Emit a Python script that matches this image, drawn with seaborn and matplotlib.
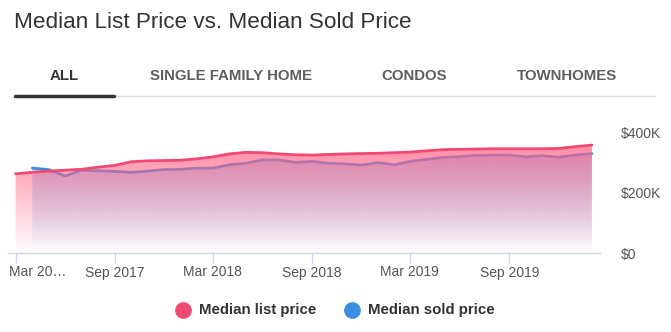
import numpy as np
import pandas as pd
import matplotlib
matplotlib.use("Agg")
import matplotlib.pyplot as plt
import matplotlib.dates as mdates
import matplotlib.transforms as mtransforms
import seaborn as sns

# Monthly medians, Mar 2017 - Feb 2020 (thousands of dollars)
months = pd.date_range("2017-03-01", periods=36, freq="MS")
list_price = [262, 267, 271, 274, 277, 284, 290, 302, 305, 306, 307, 312,
              318, 328, 333, 332, 328, 325, 324, 326, 328, 329, 330, 332,
              334, 338, 342, 343, 344, 345, 345, 345, 345, 346, 352, 357]
sold_price = [np.nan, 281, 276, 255, 274, 272, 270, 267, 271, 276, 277, 281,
              281, 292, 297, 308, 308, 300, 303, 297, 295, 291, 299, 292,
              303, 310, 316, 319, 323, 324, 324, 318, 322, 317, 324, 329]
tick_months = ["2017-03-01", "2017-09-01", "2018-03-01", "2018-09-01",
               "2019-03-01", "2019-09-01"]
tick_labels = ["Mar 20\u2026", "Sep 2017", "Mar 2018", "Sep 2018",
               "Mar 2019", "Sep 2019"]
y_ticks = [0, 200, 400]
y_labels = ["$0", "$200K", "$400K"]
tabs = ["ALL", "SINGLE FAMILY HOME", "CONDOS", "TOWNHOMES"]
series_names = ["Median list price", "Median sold price"]

LIST_COLOR = "#f04a72"
SOLD_COLOR = "#3b8ddd"

sns.set_theme(style="white")
plt.rcParams["font.family"] = ["Liberation Sans", "DejaVu Sans"]

W, H = 671, 332
fig = plt.figure(figsize=(W / 100, H / 100), dpi=100)


def fx(px):
    return px / W


def fy(py):
    return 1 - py / H


ax = fig.add_axes([fx(8), fy(253), fx(600) - fx(8), fy(117) - fy(253)])

df = pd.DataFrame({"month": months, "list": list_price, "sold": sold_price})
xnum = mdates.date2num(df["month"])
x0 = mdates.date2num(pd.Timestamp("2017-03-01")) - 14
x1 = mdates.date2num(pd.Timestamp("2020-02-01")) + 15
ymax = 450


def gradient_area(values, color, top_alpha, z):
    vals = np.asarray(values, dtype=float)
    ok = ~np.isnan(vals)
    poly = ax.fill_between(xnum[ok], 0, vals[ok], color="none", lw=0)
    rgb = matplotlib.colors.to_rgb(color)
    top = np.nanmax(vals)
    grad = np.zeros((256, 1, 4))
    grad[..., :3] = rgb
    grad[:, 0, 3] = np.linspace(top_alpha, 0.0, 256)
    im = ax.imshow(grad, aspect="auto", extent=[x0, x1, 0, top],
                   origin="upper", zorder=z, interpolation="bilinear")
    path = poly.get_paths()[0]
    im.set_clip_path(path, transform=ax.transData)


gradient_area(sold_price, SOLD_COLOR, 0.45, 1)
sns.lineplot(data=df, x="month", y="sold", ax=ax, color=SOLD_COLOR, lw=2,
             zorder=2)
gradient_area(list_price, "#ff6489", 0.75, 3)
sns.lineplot(data=df, x="month", y="list", ax=ax, color=LIST_COLOR, lw=2,
             zorder=4)

ax.set_xlim(x0, x1)
ax.set_ylim(0, ymax)
ax.set_xlabel("")
ax.set_ylabel("")
for s in ["top", "right", "left"]:
    ax.spines[s].set_visible(False)
ax.spines["bottom"].set_color("#ccd6eb")
ax.spines["bottom"].set_linewidth(1)

ax.set_xticks(mdates.date2num(pd.to_datetime(tick_months)))
ax.set_xticklabels(tick_labels)
ax.tick_params(axis="x", direction="out", length=7, width=1,
               color="#ccd6eb", labelsize=10, labelcolor="#555555", pad=2,
               bottom=True)
# first label is truncated and sits flush with the left edge
first = ax.get_xticklabels()[0]
first.set_horizontalalignment("left")
first.set_transform(first.get_transform() +
                    mtransforms.ScaledTranslation(-7 / 100, 0,
                                                  fig.dpi_scale_trans))

ax.yaxis.tick_right()
ax.set_yticks(y_ticks)
ax.set_yticklabels(y_labels)
ax.tick_params(axis="y", length=0, labelsize=10, labelcolor="#555555",
               pad=15)
for lab in ax.get_yticklabels():
    lab.set_horizontalalignment("left")
ax.grid(False)
ax.patch.set_alpha(0)

# Title
fig.text(fx(14), fy(22), "Median List Price vs. Median Sold Price",
         fontsize=16.2, color="#333333", va="center", ha="left")

# Tabs
tab_x = [64, 231, 414, 567]
for i, (t, x) in enumerate(zip(tabs, tab_x)):
    fig.text(fx(x), fy(76.5), t, fontsize=10.8, fontweight="bold",
             color="#333333" if i == 0 else "#5f5f5f",
             ha="center", va="center")
fig.add_artist(plt.Line2D([fx(114), fx(655)], [fy(96), fy(96)],
                          color="#dddddd", lw=1))
fig.add_artist(plt.Line2D([fx(15), fx(114)], [fy(95.5), fy(95.5)],
                          color="#333333", lw=2.5))

# Legend
for name, color, cx in zip(series_names, [LIST_COLOR, SOLD_COLOR], [183, 352]):
    fig.add_artist(plt.Line2D([fx(cx)], [fy(310)], marker="o",
                              markersize=11, color=color, lw=0))
    fig.text(fx(cx + 16), fy(310), name, fontsize=10.8, fontweight="bold",
             color="#333333", ha="left", va="center")

fig.savefig("out.png", dpi=100)
